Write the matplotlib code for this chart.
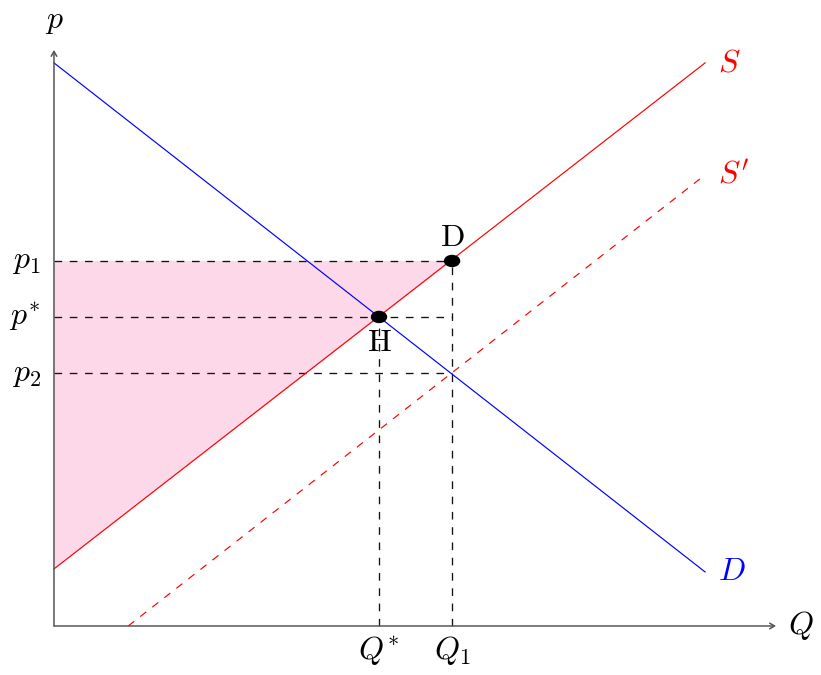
import matplotlib
matplotlib.use("Agg")
import matplotlib.pyplot as plt
from matplotlib.patches import Ellipse

plt.rcParams['mathtext.fontset'] = 'cm'
plt.rcParams['lines.scale_dashes'] = False

# curve end points (Q, p)
demand_q = [0, 10]
demand_p = [8.65, 0.83]
supply_q = [0, 10]
supply_p = [0.876, 8.65]
supply2_q = [1.14, 10]
supply2_p = [0, 6.93]

# equilibrium and shifted values
q_star, p_star = 4.992, 4.747
q1, p1, p2 = 6.114, 5.607, 3.886

q_max, p_max = 11.09, 8.85

fig = plt.figure(figsize=(8.21, 6.75), dpi=100)
ax = fig.add_axes([0, 0, 1, 1])
ax.set_xlim(-0.829, 11.78)
ax.set_ylim(-0.753, 9.616)
ax.axis('off')

# shaded area
ax.fill([0, 0, q1], [supply_p[0], p1, p1], color='#fdd8e8', lw=0, zorder=1)

# axes with arrows
arr = dict(arrowstyle='->,head_length=0.35,head_width=0.2', color='#555555', lw=1.1,
           shrinkA=0, shrinkB=0)
ax.annotate('', xy=(q_max, 0), xytext=(0, 0), arrowprops=arr, zorder=5)
ax.annotate('', xy=(0, p_max), xytext=(0, 0), arrowprops=arr, zorder=5)

# curves
ax.plot(demand_q, demand_p, color='blue', lw=0.85, zorder=3)
ax.plot(supply_q, supply_p, color='red', lw=0.85, zorder=3)
ax.plot(supply2_q, supply2_p, color='red', lw=0.85, dashes=(5.5, 5.5), zorder=3)

# guide lines
dk = dict(color='#111111', lw=0.95, dashes=(5.5, 5.5), zorder=2)
ax.plot([0, q1], [p1, p1], **dk)
ax.plot([0, q1], [p_star, p_star], **dk)
ax.plot([0, q1], [p2, p2], **dk)
ax.plot([q_star, q_star], [0, p_star], **dk)
ax.plot([q1, q1], [0, p1], **dk)

# points
for q, p in [(q_star, p_star), (q1, p1)]:
    ax.add_patch(Ellipse((q, p), 15 / 65.1, 11 / 65.1, color='black', zorder=6))

fs = 23
ax.text(q1, p1 + 0.12, r'$\mathrm{D}$', fontsize=fs, ha='center', va='bottom')
ax.text(q_star, p_star - 0.16, r'$\mathrm{H}$', fontsize=fs, ha='center', va='top')

ax.text(0, p_max + 0.22, r'$p$', fontsize=fs, ha='center', va='bottom')
ax.text(q_max + 0.18, 0, r'$Q$', fontsize=fs, ha='left', va='center')
for val, lab in [(p1, r'$p_1$'), (p_star, r'$p^{\!*}$'), (p2, r'$p_2$')]:
    ax.text(-0.2, val, lab, fontsize=fs, ha='right', va='center')
for val, lab in [(q_star, r'$Q^{\!*}$'), (q1, r'$Q_1$')]:
    ax.text(val, -0.13, lab, fontsize=fs, ha='center', va='top')

ax.text(10.2, supply_p[1], r'$S$', fontsize=fs, color='red', ha='left', va='center')
ax.text(10.2, supply2_p[1], r"$S'$", fontsize=fs, color='red', ha='left', va='center')
ax.text(10.2, demand_p[1], r'$D$', fontsize=fs, color='blue', ha='left', va='center')

fig.savefig('out.png', dpi=100)
